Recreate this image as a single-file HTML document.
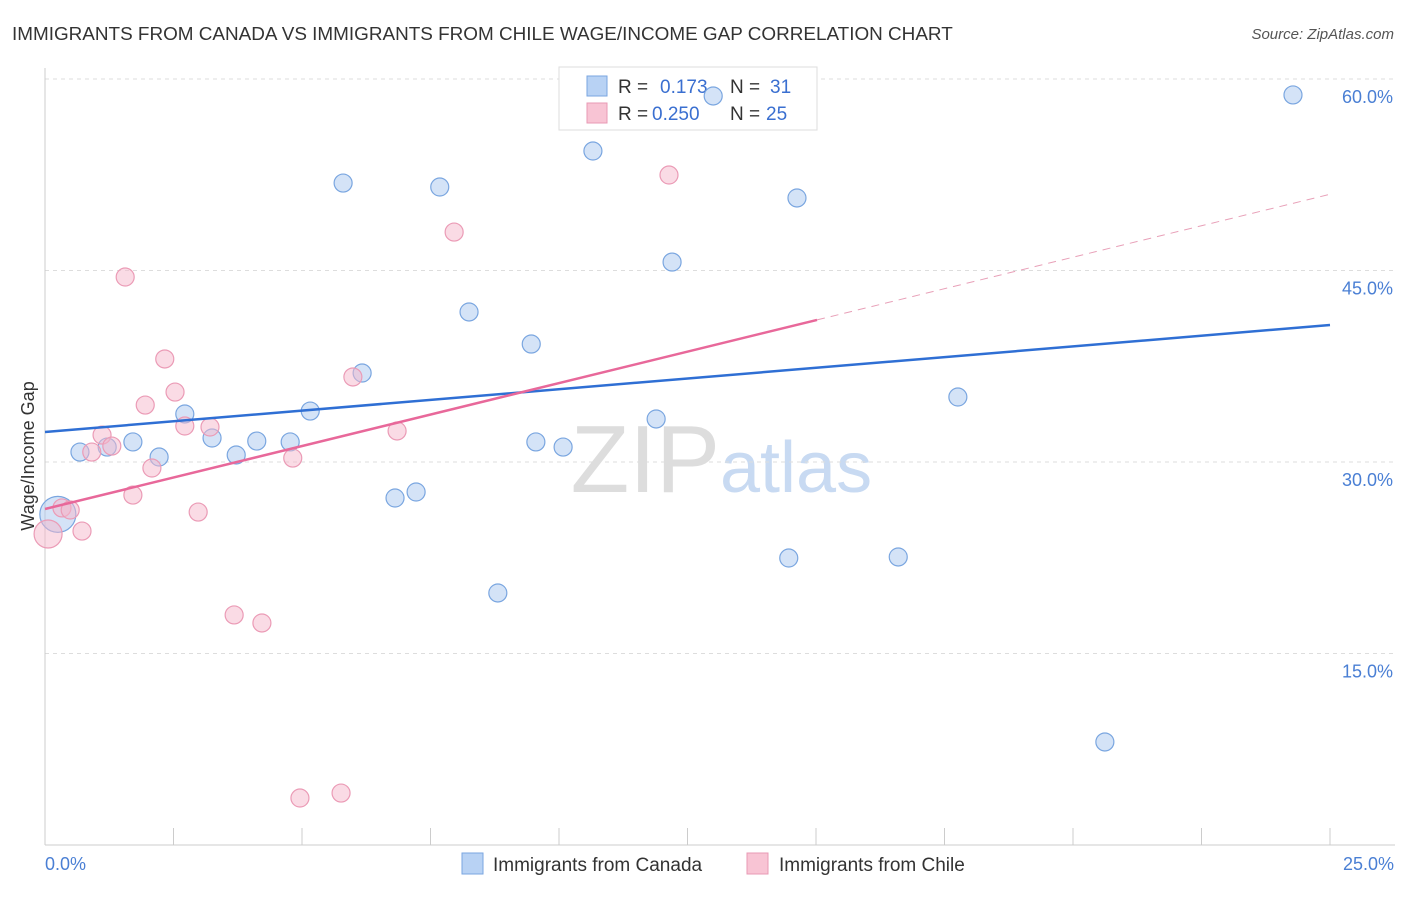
<!DOCTYPE html>
<html><head><meta charset="utf-8"><style>
body{margin:0;background:#fff;font-family:"Liberation Sans",sans-serif}
svg text{font-family:"Liberation Sans",sans-serif}
</style></head><body>
<svg width="1406" height="892" viewBox="0 0 1406 892">
<text x="12" y="40" font-size="18.9" fill="#333">IMMIGRANTS FROM CANADA VS IMMIGRANTS FROM CHILE WAGE/INCOME GAP CORRELATION CHART</text>
<text x="1394" y="39" font-size="15" fill="#555" font-style="italic" text-anchor="end">Source: ZipAtlas.com</text>
<text x="720" y="492" font-size="96" fill="#ddd" text-anchor="end" font-family="Liberation Serif">ZIP</text>
<text x="720" y="492" font-size="72" fill="#c8daf2">atlas</text>
<g id="grid"></g>
<g id="axes"></g>
<g>
<rect x="559" y="67" width="258" height="63" fill="#fff" stroke="#ddd"/>
<rect x="587" y="76" width="20" height="20" fill="#b8d2f4" stroke="#7aa6e0"/>
<rect x="587" y="103" width="20" height="20" fill="#f8c4d4" stroke="#e89ab4"/>
<text x="618" y="93" font-size="19" fill="#333">R = </text><text x="660" y="93" font-size="19" fill="#3a6fd0">0.173</text>
<text x="730" y="93" font-size="19" fill="#333">N = </text><text x="770" y="93" font-size="19" fill="#3a6fd0">31</text>
<text x="618" y="120" font-size="19" fill="#333">R = </text><text x="652" y="120" font-size="19" fill="#3a6fd0">0.250</text>
<text x="730" y="120" font-size="19" fill="#333">N = </text><text x="766" y="120" font-size="19" fill="#3a6fd0">25</text>
</g>
<g id="pts"></g>
<g id="lines"></g>
<text transform="translate(34,456) rotate(-90)" font-size="18" fill="#333" text-anchor="middle">Wage/Income Gap</text>
<text x="45" y="870" font-size="18" fill="#4a7fd4">0.0%</text>
<text x="1394" y="870" font-size="18" fill="#4a7fd4" text-anchor="end">25.0%</text>
<g>
<rect x="462" y="853" width="21" height="21" fill="#b8d2f4" stroke="#7aa6e0"/>
<text x="493" y="871" font-size="19" fill="#333">Immigrants from Canada</text>
<rect x="747" y="853" width="21" height="21" fill="#f8c4d4" stroke="#e89ab4"/>
<text x="779" y="871" font-size="19" fill="#333">Immigrants from Chile</text>
</g>
</svg>
<script>
const yTicks=[15,30,45,60];
const xTickCount=10;
const canadaX=[0.68,1.21,1.71,2.22,2.72,3.25,3.72,4.12,4.77,5.16,5.80,6.17,6.81,7.22,7.68,8.25,8.81,9.46,9.55,10.08,10.66,11.89,12.20,13.00,14.47,14.63,16.60,17.76,20.62,24.28,0.25];
const canadaY=[30.78,31.17,31.57,30.39,33.76,31.88,30.55,31.64,31.57,33.99,51.85,36.97,27.18,27.65,51.54,41.75,19.74,39.24,31.57,31.17,54.36,33.37,45.66,58.67,22.48,50.68,22.56,35.09,8.07,58.75,25.9];
const canadaBig=[0,0,0,0,0,0,0,0,0,0,0,0,0,0,0,0,0,0,0,0,0,0,0,0,0,0,0,0,0,0,1];
const chileX=[0.06,0.33,0.49,0.72,0.91,1.11,1.30,1.56,1.71,1.95,2.08,2.33,2.53,2.72,2.98,3.21,3.68,4.22,4.82,4.96,5.76,5.99,6.85,7.96,12.14];
const chileY=[24.36,26.40,26.24,24.59,30.78,32.11,31.25,44.49,27.41,34.46,29.53,38.07,35.48,32.82,26.08,32.74,18.02,17.39,30.31,3.68,4.07,36.66,32.43,48.01,52.48];
const chileBig=[1,0,0,0,0,0,0,0,0,0,0,0,0,0,0,0,0,0,0,0,0,0,0,0,0];
const trendCanada=[32.35,40.73];
const trendChile=[26.32,50.97];
const chileSolidEnd=15.02;
const NS="http://www.w3.org/2000/svg";
const X=v=>45+v/25*1285, Y=v=>845-v/15*191.5;
function mk(t,a,p){const e=document.createElementNS(NS,t);for(const k in a)e.setAttribute(k,a[k]);document.getElementById(p).appendChild(e);return e;}
yTicks.forEach(t=>{const g=mk('line',{x1:45,x2:1395,y1:Y(t),y2:Y(t),stroke:'#ddd','stroke-dasharray':'4,4'},'grid');


const l=mk('text',{x:1393,y:Y(t)+24,'font-size':18,fill:'#4a7fd4','text-anchor':'end'},'grid');l.textContent=t.toFixed(1)+'%';

});
let a=mk('line',{x1:45,x2:45,y1:68,y2:845,stroke:'#ccc'},'axes');


a=mk('line',{x1:45,x2:1395,y1:845,y2:845,stroke:'#ccc'},'axes');


for(let i=0;i<=xTickCount;i++){const t=mk('line',{x1:X(i*2.5),x2:X(i*2.5),y1:828,y2:845,stroke:'#ccc'},'axes');

}
canadaX.forEach((v,i)=>{const c=mk('circle',{cx:X(v),cy:Y(canadaY[i]),r:canadaBig[i]?18:9,fill:'rgba(170,200,240,0.5)',stroke:'#7aa6e0','stroke-width':1.2},'pts');

});
chileX.forEach((v,i)=>{const c=mk('circle',{cx:X(v),cy:Y(chileY[i]),r:chileBig[i]?14:9,fill:'rgba(246,184,204,0.5)',stroke:'#eb9bb6','stroke-width':1.2},'pts');

});
let l=mk('line',{x1:X(0),y1:Y(trendCanada[0]),x2:X(25),y2:Y(trendCanada[1]),stroke:'#2f6fd4','stroke-width':2.5},'lines');


const ym=trendChile[0]+(trendChile[1]-trendChile[0])*chileSolidEnd/25;
l=mk('line',{x1:X(0),y1:Y(trendChile[0]),x2:X(chileSolidEnd),y2:Y(ym),stroke:'#e8689a','stroke-width':2.5},'lines');


l=mk('line',{x1:X(chileSolidEnd),y1:Y(ym),x2:X(25),y2:Y(trendChile[1]),stroke:'#e8a0b8','stroke-width':1,'stroke-dasharray':'8,6'},'lines');


</script>
</body></html>
